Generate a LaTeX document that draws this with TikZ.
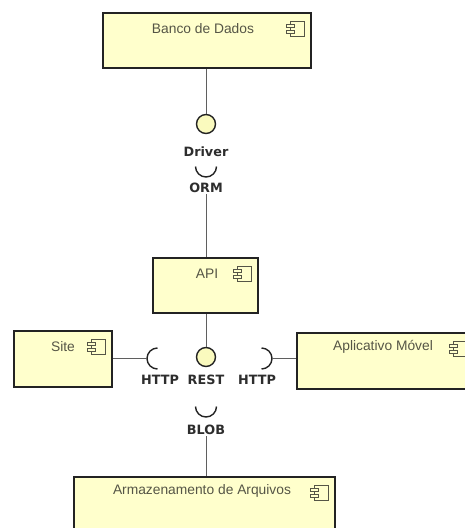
\documentclass[tikz,border=0pt]{standalone}
\usepackage{fontspec}
\setmainfont{Liberation Sans}
\newfontfamily\lblfont{DejaVu Sans}
\usetikzlibrary{calc}
\definecolor{boxfill}{RGB}{255,255,204}
\definecolor{ballfill}{RGB}{250,250,190}
\definecolor{edgecol}{RGB}{35,35,35}
\definecolor{linecol}{RGB}{95,95,95}
\definecolor{txtcol}{RGB}{85,85,70}
\definecolor{lblcol}{RGB}{45,45,45}
\tikzset{
  comp/.style={draw=edgecol, fill=boxfill, line width=1.6pt, rectangle, inner sep=0pt},
  complabel/.style={text=txtcol, inner sep=0pt, font=\fontsize{13.8}{15}\selectfont},
  ball/.style={circle, draw=edgecol, fill=ballfill, line width=1.4pt, minimum size=19pt, inner sep=0pt},
  sock/.style={draw=edgecol, line width=1.4pt},
  conn/.style={draw=linecol, line width=1pt},
  iflabel/.style={text=lblcol, inner sep=1pt, font=\lblfont\bfseries\fontsize{12.8}{14}\selectfont},
  iconline/.style={draw=txtcol, line width=0.8pt},
  compicon/.pic={
    \draw[iconline, fill=boxfill] (-21,9) rectangle (-7,24);
    \draw[iconline, fill=boxfill] (-25,12) rectangle (-17,15);
    \draw[iconline, fill=boxfill] (-25,18) rectangle (-17,21);
  }
}
\begin{document}
\begin{tikzpicture}[x=1pt,y=-1pt]
\useasboundingbox (0,0) rectangle (465,528);
\fill[white] (0,0) rectangle (465,528);
\clip (0,0) rectangle (465,528);

% components
\node[comp, minimum width=208pt, minimum height=55pt] (banco) at (207,40.5) {};
\node[comp, minimum width=105pt, minimum height=55pt] (api) at (205.5,285.5) {};
\node[comp, minimum width=98pt, minimum height=56pt] (site) at (63,359) {};
\node[comp, minimum width=177pt, minimum height=56pt] (app) at (385.5,361) {};
\node[comp, minimum width=261pt, minimum height=56pt] (arq) at (204.5,505) {};

\node[complabel] (bancoL) at ($(banco.north)+(-4,16)$) {Banco de Dados};
\node[complabel] (apiL) at ($(api.north)+(1.5,17)$) {API};
\node[complabel] (siteL) at ($(site.north)+(0,16)$) {Site};
\node[complabel] (appL) at ($(app.north)+(-2.5,15)$) {Aplicativo Móvel};
\node[complabel] (arqL) at ($(arq.north)+(-2.5,15)$) {Armazenamento de Arquivos};

\pic at (banco.north east) {compicon};
\pic at (api.north east) {compicon};
\pic at (site.north east) {compicon};
\pic at (app.north east) {compicon};
\pic at (arq.north east) {compicon};

% interfaces
\node[ball] (driver) at (206,124) {};
\node[iflabel] (driverL) at (206,152) {Driver};
\coordinate (ormS) at (206,177);
\node[iflabel] (ormL) at (206,188) {ORM};

\node[ball] (rest) at (206,357) {};
\node[iflabel] (restL) at (206,380) {REST};
\coordinate (sockL) at (147,358.5);
\node[iflabel] (httpL) at (160,380) {HTTP};
\coordinate (sockR) at (272,358.5);
\node[iflabel] (httpR) at (257,380) {HTTP};

\coordinate (blobS) at (206,417);
\node[iflabel] (blobL) at (206,430) {BLOB};

% sockets
\draw[sock] (ormS) arc[start angle=270, end angle=180, radius=10.5pt]
            (ormS) arc[start angle=270, end angle=360, radius=10.5pt];
\draw[sock] (blobS) arc[start angle=270, end angle=180, radius=10.5pt]
            (blobS) arc[start angle=270, end angle=360, radius=10.5pt];
\draw[sock] (sockL) arc[start angle=180, end angle=90, radius=10.5pt]
            (sockL) arc[start angle=180, end angle=270, radius=10.5pt];
\draw[sock] (sockR) arc[start angle=0, end angle=90, radius=10.5pt]
            (sockR) arc[start angle=0, end angle=-90, radius=10.5pt];

% connectors
\draw[conn] (driver.north |- banco.south) -- (driver.north);
\draw[conn] (ormL.south) -- (ormL.south |- api.north);
\draw[conn] (rest.north |- api.south) -- (rest.north);
\draw[conn] (site.east |- sockL) -- (sockL);
\draw[conn] (sockR) -- (sockR -| app.west);
\draw[conn] (blobL.south) -- (blobL.south |- arq.north);
\end{tikzpicture}
\end{document}
